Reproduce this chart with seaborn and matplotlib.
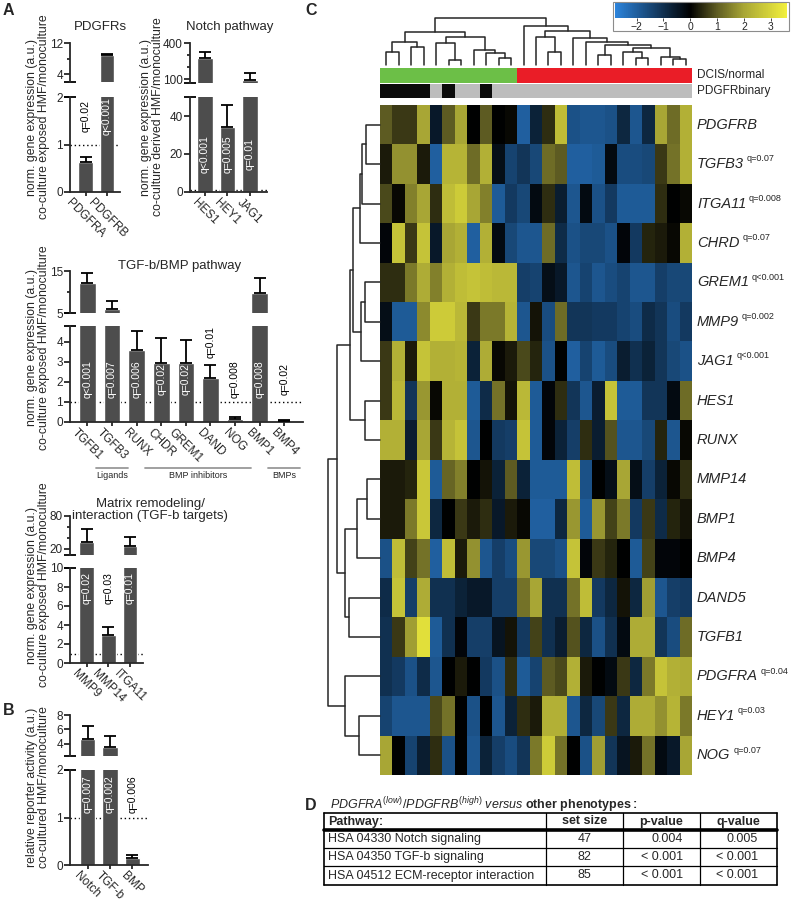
import numpy as np
import matplotlib
matplotlib.use("Agg")
import matplotlib.pyplot as plt
import seaborn as sns
from matplotlib.colors import LinearSegmentedColormap, ListedColormap
from matplotlib.transforms import blended_transform_factory
from matplotlib.patches import Rectangle

sns.set_style("ticks")
plt.rcParams["font.family"] = ["Liberation Sans", "DejaVu Sans"]
plt.rcParams["mathtext.fontset"] = "custom"
plt.rcParams["mathtext.rm"] = "Liberation Sans"
plt.rcParams["mathtext.it"] = "Liberation Sans:italic"
plt.rcParams["mathtext.bf"] = "Liberation Sans:bold"

# ---- panel A / B bar data ----
pdgfr_genes = ["PDGFRA", "PDGFRB"]
pdgfr_vals = [0.63, 8.9]
pdgfr_err = [0.11, 0.2]
pdgfr_q = ["q=0.02", "q<0.001"]

notch_genes = ["HES1", "HEY1", "JAG1"]
notch_vals = [275, 34, 92]
notch_err = [50, 12, 58]
notch_q = ["q<0.001", "q=0.005", "q=0.01"]

tgf_genes = ["TGFB1", "TGFB3", "RUNX", "CHDR", "GREM1", "DAND", "NOG", "BMP1", "BMP4"]
tgf_vals = [12.1, 6.0, 3.6, 2.95, 2.95, 2.2, 0.15, 9.8, 0.05]
tgf_err = [2.4, 1.9, 0.95, 1.25, 1.15, 0.65, 0.1, 3.6, 0.05]
tgf_q = ["q<0.001", "q=0.007", "q=0.006", "q=0.02", "q=0.02", "q=0.01", "q=0.008", "q=0.008", "q=0.02"]
tgf_groups = [("Ligands", 0, 1), ("BMP inhibitors", 2, 6), ("BMPs", 7, 8)]

ecm_genes = ["MMP9", "MMP14", "ITGA11"]
ecm_vals = [32.7, 2.95, 25.5]
ecm_err = [23, 0.85, 16.5]
ecm_q = ["q=0.02", "q=0.03", "q=0.01"]

rep_names = ["Notch", "TGF-b", "BMP"]
rep_vals = [4.7, 3.6, 0.15]
rep_err = [1.8, 1.5, 0.07]
rep_q = ["q=0.007", "q=0.002", "q=0.006"]

# ---- panel C heatmap data ----
row_genes = ["PDGFRB", "TGFB3", "ITGA11", "CHRD", "GREM1", "MMP9", "JAG1", "HES1", "RUNX",
             "MMP14", "BMP1", "BMP4", "DAND5", "TGFB1", "PDGFRA", "HEY1", "NOG"]
row_q = ["", "q=0.07", "q=0.008", "q=0.07", "q<0.001", "q=0.002", "q<0.001", "", "",
         "", "", "", "", "", "q=0.04", "q=0.03", "q=0.07"]
expr = np.array([
    [1, 0.6, 0.6, 2, -0.5, 1, 2, 0, 1, 0, 0.1, -2, -0.7, 0.5, 2.5, -1.7, -1.8, -1.8, -1.7, -0.8, -1.8, -0.8, 2, 1.2, 2.2],
    [0.3, 1.7, 1.7, 0.3, -2, 2.3, 2.3, 1.2, 2.2, -0.3, -1.4, -1.1, -1.5, 1.2, 1.0, -2, -2, -1.9, -0.2, -1.6, -1.6, -1.5, 0.6, 1.3, 2.2],
    [0.8, 0.1, 1.5, 2, 0.5, 2.5, 2.8, 2, 1.5, -1.9, -1.2, -1.5, -0.2, 0.5, -0.6, -1.8, -0.2, -1.7, -1.2, -1.9, -1.9, -1.9, 0.5, 0, 0.1],
    [-0.1, 2.6, 0.6, 2.6, -0.5, 2.0, 2.2, -2, 2.2, -0.2, -1.5, -1.8, -1.8, 1.2, -0.9, -1.7, -1.5, -1.5, -1.7, -0.1, -1.2, 0.4, 0.3, 0.1, 2.2],
    [0.5, 0.5, 1.4, 2.1, 1.5, 2.2, 2.5, 2.6, 2.5, 2.4, 2.4, -1.3, -1.4, -0.3, -0.5, -1.8, -1.4, -1.8, -1.6, -1.4, -1.8, -1.8, -1.3, -1.5, -1.5],
    [-0.3, -1.9, -1.9, 1.6, 2.8, 2.8, 2.4, 0.6, 1.4, 1.4, 2.3, -1.8, 0.2, -1.6, 1.2, -1.1, -1.1, -1.2, -1.2, -1.4, -1.6, -0.9, -1.1, -1.6, -1.2],
    [0.6, 2.2, 0.3, 2.6, 2.2, 2.2, 2.3, -0.7, 2.1, 0.1, 0.3, 0.8, 0.4, -1.7, 0, -2, -1.4, -1.9, -1.6, -0.6, -1.0, -0.7, -1.1, -1.5, -1.7],
    [0.6, 2.4, -1.1, 1.8, 0.1, 2.2, 2.2, -1.9, -0.9, 1.3, 0.2, 2.4, -1.9, -0.1, 0.5, -1.1, -1.8, -0.6, 2.6, -1.9, -1.9, -1.1, -1.1, -0.2, 1.2],
    [2.2, 2.2, -0.6, 2.0, 0.6, 2.3, 2.6, -1.8, 0, -1.2, -1.3, 2.6, -1.9, -0.1, -0.7, -1.3, 0.5, -0.6, 0.9, -1.8, -1.8, -1.5, 0.4, -1.8, 0.1],
    [0.3, 0.3, 0.4, 2.7, -1.9, 1.1, 1.5, 0, 0.2, -0.7, 1.0, -0.7, -1.9, -1.9, -1.9, 2.5, -1.7, 0, -0.3, 2.0, -0.3, -1.3, -0.7, 0.1, 0.5],
    [0.3, 0.3, 1.4, 2.7, -0.8, 0, 0.6, 0.3, 0.5, -0.5, 0.3, 0.1, -2.0, -2.0, -0.8, 1.8, -1.9, 1.8, 0.7, 1.4, -1.2, 0.6, -0.9, 0.4, 0.2],
    [-1.7, 2.5, 0.7, 1.3, -2, 2.5, 0.3, 1.7, -1.8, -1.3, -1.6, 1.8, -1.5, -1.5, -1.7, 2.6, -0.1, 0.6, 0.4, 0, -1.9, 0.7, -0.1, -0.1, 0],
    [-0.9, 2.6, -1.3, 2.1, -1.0, -1.0, -0.7, -0.5, -0.5, -1.3, -1.3, 1.3, 2.0, -1.0, -1.0, 1.3, 2.5, -1.2, -0.8, 0.2, -0.8, 1.9, -1.8, -1.3, -1.2],
    [-1.0, 0.6, 1.9, 3.2, -1.9, -1.0, -0.1, -1.3, -1.3, -0.4, 0.2, -1.2, 0.7, -1.0, -0.6, 0.9, -0.8, -1.7, -1.0, -0.2, 2.1, 2.1, -1.1, -1.6, 1.2],
    [-1.0, -1.2, -1.7, -0.9, -1.8, 0, 0.3, 0, -1.2, -1.7, 0.5, -1.9, -1.4, 1.0, 0.8, 2.2, 0.3, 0, -0.2, 0.6, -0.8, 1.4, 2.6, 2.2, 2.1],
    [-1.4, -1.8, -1.8, -1.8, 0.8, 1.3, 0, -1.7, 0, -1.8, -0.7, 0.5, 0.3, 2.2, 2.2, -1.8, -0.8, -1.5, 0.6, -0.8, 2.1, 2.1, 1.7, 2.3, 1.4],
    [2.0, 0, -1.4, -0.6, 0.5, -1.7, 0, -1.8, -0.7, -1.3, -1.6, -1.1, 1.4, 2.8, 1.3, 0, -1.7, 1.9, -1.1, -0.4, 0.3, 1.3, -0.2, -0.5, 2.0],
])
dcis_status = [0] * 11 + [1] * 14          # 0 normal, 1 DCIS
pdgfr_binary = [1, 1, 1, 1, 0, 1, 0, 0, 1] + [0] * 16

# dendrograms as (left, right, merge height)
col_tree = ((((0, 1, 40), (2, 3, 55), 70),
             ((4, (5, 6, 15), 65), (7, (8, (9, 10, 20), 37), 45), 82), 98),
            (11, ((12, (13, 14, 40), 83),
                  (15, (16, ((17, 18, 30), ((19, (20, 21, 20), 40), (22, (23, 24, 17), 25), 50), 60), 70), 80),
                  100), 115), 140)
row_tree = (((((((0, 1, 14), 2, 17.5), 3, 20), ((4, 5, 15), 6, 19), 27.5), (7, 8, 15), 30.5),
             (((9, 10, 13), 11, 23), (12, 13, 31), 35), 43),
            (14, (15, 16, 21), 35.5), 52)

# ---- panel D table ----
tbl_cols = ["Pathway:", "set size", "p-value", "q-value"]
tbl_path = ["HSA 04330 Notch signaling", "HSA 04350 TGF-b signaling", "HSA 04512 ECM-receptor interaction"]
tbl_size = ["47", "82", "85"]
tbl_p = ["0.004", "< 0.001", "< 0.001"]
tbl_q = ["0.005", "< 0.001", "< 0.001"]

W, H = 799, 900
fig = plt.figure(figsize=(7.99, 9.0), dpi=100)
BAR = "#4d4d4d"


def box(x0, y0, x1, y1):
    return [x0 / W, 1 - y1 / H, (x1 - x0) / W, (y1 - y0) / H]


def broken_bars(xs, up_y, low_y, xlim, names, vals, errs, qs, up_lim, up_ticks, up_minor,
                low_lim, low_ticks, q_c, q_h):
    ax_u = fig.add_axes(box(xs[0], up_y[0], xs[1], up_y[1]))
    ax_l = fig.add_axes(box(xs[0], low_y[0], xs[1], low_y[1]))
    n = len(vals)
    for ax in (ax_u, ax_l):
        sns.barplot(x=names, y=vals, color=BAR, saturation=1, width=0.68, errorbar=None, ax=ax)
        ax.errorbar(range(n), vals, yerr=[np.zeros(n), errs], fmt="none", ecolor="k",
                    elinewidth=1.3, capsize=4.5, capthick=1.3, zorder=3)
        ax.set_xlim(xlim)
        ax.set_xlabel("")
        ax.set_ylabel("")
        ax.spines[["top", "right"]].set_visible(False)
        for s in ax.spines.values():
            s.set_linewidth(1.3)
        ax.tick_params(width=1.3, length=4, labelsize=8.5, pad=1)
    ax_u.set_ylim(up_lim)
    ax_u.set_yticks(up_ticks)
    ax_u.set_yticks(up_minor, minor=True)
    ax_u.tick_params(which="minor", width=1.3, length=2.5)
    ax_u.spines["bottom"].set_visible(False)
    ax_u.tick_params(axis="x", bottom=False, labelbottom=False)
    ax_l.set_ylim(low_lim)
    ax_l.set_yticks(low_ticks)
    ax_l.set_xticks(range(n))
    ax_l.set_xticklabels(names, rotation=-45, ha="center", va="top", fontsize=8.5)
    ax_l.tick_params(axis="x", pad=0, length=3)
    ax_l.axhline(1, color="k", ls=(0, (1, 2)), lw=1, zorder=0.5)
    ax_l.plot([0], [1], marker="_", ms=9, mew=1.3, color="k", transform=ax_l.transAxes, clip_on=False)
    ax_u.plot([0], [0], marker="_", ms=9, mew=1.3, color="k", transform=ax_u.transAxes, clip_on=False)
    for i, (v, e, q) in enumerate(zip(vals, errs, qs)):
        if v > q_c + 0.7 * q_h:
            ax_l.text(i, q_c, q, color="white", rotation=90, ha="center", va="center", fontsize=7.5, zorder=4)
        else:
            yc = max(q_c, v + e + 0.2 * q_h + q_h)
            ax_l.text(i, yc, q, color="k", rotation=90, ha="center", va="center", fontsize=7.5, zorder=4)
    return ax_u, ax_l


def ylab(x, y, s):
    fig.text(x / W, 1 - y / H, s, rotation=90, ha="center", va="center", fontsize=8.8,
             linespacing=1.0, multialignment="center")


def title(x, y, s):
    fig.text(x / W, 1 - y / H, s, ha="center", va="center", fontsize=9.5, linespacing=1.1)


# PDGFRs
broken_bars((70, 120), (43, 82), (97, 192), (-0.72, 1.6), pdgfr_genes, pdgfr_vals, pdgfr_err, pdgfr_q,
            (2, 12), [4, 12], [8], (0, 2), [0, 1, 2], 1.6, 0.39)
title(100, 27, "PDGFRs")
ylab(38, 117, "norm. gene expression (a.u.)\nco-culture exposed HMF/monoculture")

# Notch
broken_bars((190, 267), (43, 83), (97, 192), (-0.67, 2.76), notch_genes, notch_vals, notch_err, notch_q,
            (67, 400), [100, 400], [200, 300], (0, 50), [0, 20, 40], 20, 10.5)
title(230, 27, "Notch pathway")
ylab(152, 117, "norm. gene expression (a.u.)\nco-culture derived HMF/monoculture")

# TGF-b / BMP
ax_tu, ax_tl = broken_bars((70, 303), (271, 313), (326, 422), (-0.71, 8.76), tgf_genes, tgf_vals, tgf_err,
                           tgf_q, (5, 15), [5, 15], [10], (0, 4.8), [0, 1, 2, 3, 4], 2.15, 0.95)
title(180, 266, "TGF-b/BMP pathway")
ylab(38, 348, "norm. gene expression (a.u.)\nco-culture exposed HMF/monoculture")
tr = blended_transform_factory(ax_tl.transData, fig.transFigure)
for name, i0, i1 in tgf_groups:
    ax_tl.plot([i0 + 0.35, i1 + 0.65], [1 - 468 / H] * 2, color="0.6", lw=1.3, transform=tr, clip_on=False)
    ax_tl.text((i0 + i1) / 2 + 0.5, 1 - 476 / H, name, ha="center", va="center", fontsize=6.5,
               transform=tr)

# Matrix remodeling
broken_bars((70, 143), (516, 555), (568, 663), (-0.76, 2.6), ecm_genes, ecm_vals, ecm_err, ecm_q,
            (9, 80), [20, 80], [40, 60], (0, 10), [0, 2, 4, 6, 8, 10], 7.9, 1.85)
title(150, 510, "Matrix remodeling/\ninteraction (TGF-b targets)")
ylab(38, 585, "norm. gene expression (a.u.)\nco-culture exposed HMF/monoculture")

# B reporter
broken_bars((70, 148), (715, 756), (770, 865), (-0.78, 2.69), rep_names, rep_vals, rep_err, rep_q,
            (2.34, 8), [4, 6, 8], [], (0, 2), [0, 1, 2], 1.5, 0.42)
ylab(38, 787, "relative reporter activity (a.u.)\nco-cultured HMF/monoculture")

# ---- panel C ----
cmap = LinearSegmentedColormap.from_list(
    "byk", [(0, "#2c84dc"), (2.8 / 6.4, "#000000"), (3.8 / 6.4, "#5e5c22"),
            (4.8 / 6.4, "#a8a635"), (1, "#f2f03c")])
ax_hm = fig.add_axes(box(380, 105, 692, 775))
cax = fig.add_axes(box(615, 3, 787, 18))
sns.heatmap(expr, ax=ax_hm, cmap=cmap, vmin=-2.8, vmax=3.6, cbar_ax=cax,
            cbar_kws={"orientation": "horizontal", "ticks": [-2, -1, 0, 1, 2, 3]},
            xticklabels=False, yticklabels=False)
cbar = ax_hm.collections[0].colorbar
cbar.outline.set_visible(False)
cax.tick_params(labelsize=7.5, length=2, pad=1, width=0.6)
fig.patches.append(Rectangle((613 / W, 1 - 31 / H), 176 / W, 29 / H, transform=fig.transFigure,
                             fill=False, ec="0.55", lw=0.8))

for i, (g, q) in enumerate(zip(row_genes, row_q)):
    t = ax_hm.text(25.4, i + 0.5, g, style="italic", va="center", ha="left", fontsize=10.5)
    if q:
        ax_hm.annotate(q, xy=(1, 0.55), xycoords=t, xytext=(2, 0), textcoords="offset points",
                       fontsize=6.5, va="bottom", ha="left")

ax_g = fig.add_axes(box(380, 68, 692, 83))
sns.heatmap(np.array([dcis_status]), ax=ax_g, cmap=ListedColormap(["#6cbf47", "#ea1d27"]),
            vmin=0, vmax=1, cbar=False, xticklabels=False, yticklabels=False)
ax_g.text(25.4, 0.5, "DCIS/normal", va="center", fontsize=8.5)
ax_b = fig.add_axes(box(380, 84, 692, 98))
sns.heatmap(np.array([pdgfr_binary]), ax=ax_b, cmap=ListedColormap(["#bdbdbd", "#0b0b0b"]),
            vmin=0, vmax=1, cbar=False, xticklabels=False, yticklabels=False)
ax_b.text(25.4, 0.5, "PDGFRbinary", va="center", fontsize=8.5)


def draw_tree(ax, node, top):
    if isinstance(node, int):
        return node + 0.5, 0
    left, right, h = node
    p1, h1 = draw_tree(ax, left, top)
    p2, h2 = draw_tree(ax, right, top)
    a, b = [p1, p1, p2, p2], [h1, h, h, h2]
    if top:
        ax.plot(a, b, color="0.15", lw=1.1, clip_on=False)
    else:
        ax.plot(b, a, color="0.15", lw=1.1, clip_on=False)
    return (p1 + p2) / 2, h


ax_cd = fig.add_axes(box(380, 18, 692, 65))
draw_tree(ax_cd, col_tree, True)
ax_cd.set_xlim(0, 25)
ax_cd.set_ylim(0, 140)
ax_cd.axis("off")

ax_rd = fig.add_axes(box(328, 105, 380, 775))
draw_tree(ax_rd, row_tree, False)
ax_rd.set_xlim(52, 0)
ax_rd.set_ylim(17, 0)
ax_rd.axis("off")

# ---- panel D ----
fig.text(330 / W, 1 - 805 / H,
         r"$\it{PDGFRA}^{(low)}/\it{PDGFRB}^{(high)}$ $\it{versus}$ $\bf{other\ phenotypes:}$",
         fontsize=9, va="center", ha="left")
ax_t = fig.add_axes(box(324, 813, 777, 885))
ax_t.set_xlim(0, 453)
ax_t.set_ylim(72, 0)
ax_t.axis("off")
col_edges = [0, 222, 299, 376, 453]
row_edges = [0, 17, 35, 53, 72]
for x in col_edges:
    ax_t.plot([x, x], [0, 72], color="k", lw=1.2 if x in (0, 453) else 0.9, clip_on=False)
for y in row_edges:
    ax_t.plot([0, 453], [y, y], color="k", lw=2.6 if y == 17 else (1.2 if y in (0, 72) else 0.9),
              clip_on=False)
for j, c in enumerate(tbl_cols):
    if j == 0:
        ax_t.text(4, 8.5, c, fontweight="bold", va="center", fontsize=9)
    else:
        ax_t.text((col_edges[j] + col_edges[j + 1]) / 2, 8.5, c, fontweight="bold",
                  va="center", ha="center", fontsize=9)
for r in range(3):
    yc = (row_edges[r + 1] + row_edges[r + 2]) / 2
    ax_t.text(4, yc, tbl_path[r], va="center", fontsize=9)
    ax_t.text((col_edges[1] + col_edges[2]) / 2, yc, tbl_size[r], va="center", ha="center", fontsize=9)
    ax_t.text(col_edges[3] - 17, yc, tbl_p[r], va="center", ha="right", fontsize=9)
    ax_t.text(col_edges[4] - 19, yc, tbl_q[r], va="center", ha="right", fontsize=9)

# panel letters
for s, x, y in [("A", 3, 3), ("B", 3, 703), ("C", 305, 3), ("D", 305, 798)]:
    fig.text(x / W, 1 - y / H, s, fontsize=11.5, fontweight="bold", va="top", ha="left")

fig.savefig("out.png", dpi=100)
